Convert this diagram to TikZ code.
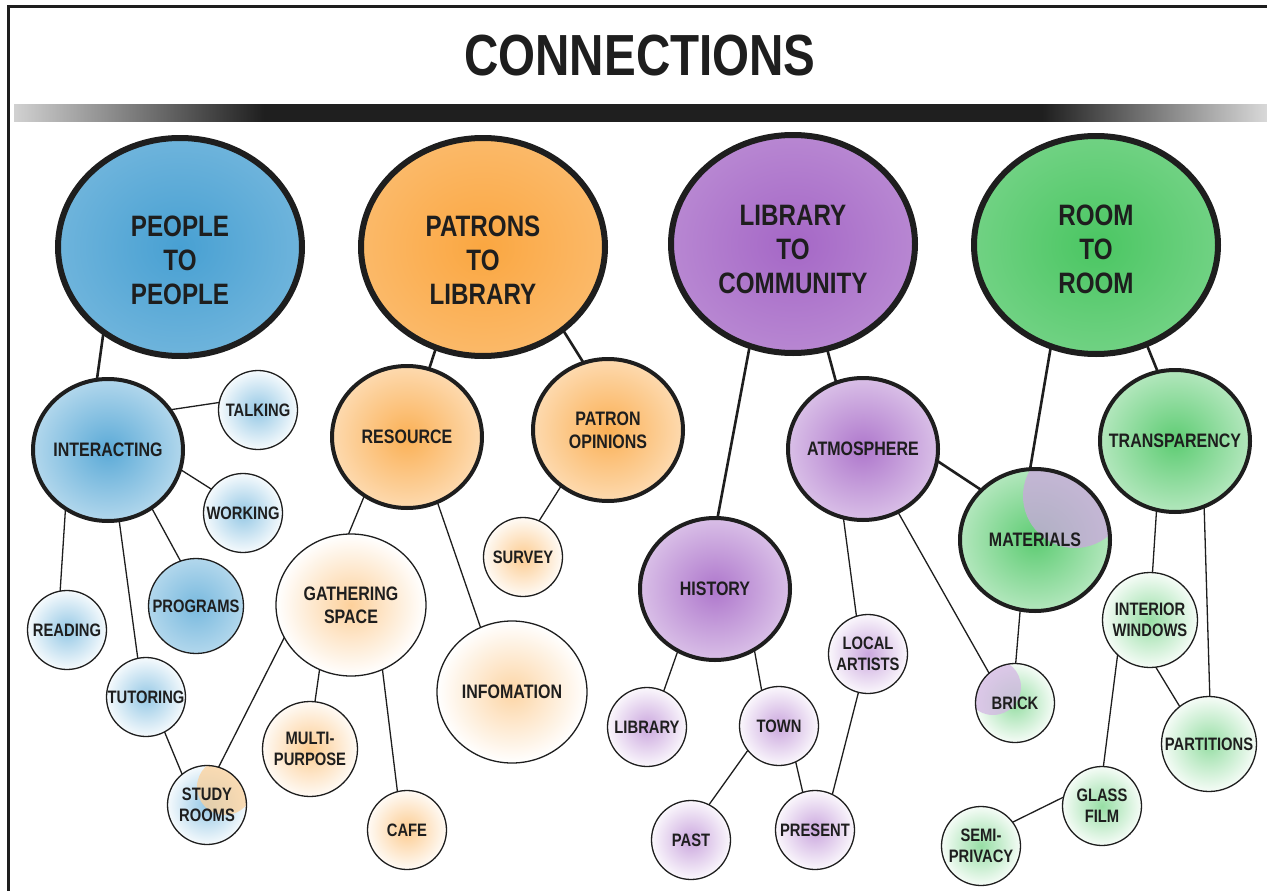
\documentclass[tikz,border=0pt]{standalone}
\usepackage{fontspec}
\setmainfont{Liberation Sans}[FakeStretch=0.82]
\usetikzlibrary{shapes.geometric}
\definecolor{wcblue}{RGB}{62,155,208}
\definecolor{wcorange}{RGB}{250,162,55}
\definecolor{wcpurple}{RGB}{160,95,195}
\definecolor{wcgreen}{RGB}{65,195,90}
\definecolor{ink}{RGB}{30,30,30}
\pgfdeclarehorizontalshading{barfade}{100bp}{color(0bp)=(black!18); color(25bp)=(black!18);
  color(35bp)=(black!88); color(66bp)=(black!88); color(75bp)=(black!15); color(100bp)=(black!15)}
\tikzset{
  % bubbles
  bub/.style={shape=ellipse, draw=ink, inner sep=0pt, outer sep=0pt},
  bigbub/.style={bub, line width=6pt, minimum width=244pt, minimum height=218pt,
    inner color=#1!95, outer color=#1!75},
  midbub/.style={bub, line width=4pt, minimum width=150pt, minimum height=142pt,
    inner color=#1!85, outer color=#1!40},
  smallbub/.style={bub, line width=1.3pt, minimum size=79pt,
    inner color=#1!55, outer color=#1!5},
  roundbub/.style={smallbub=#1, minimum size=95pt},
  % watercolour patch of a second colour
  blob/.style n args={4}{path picture={
    \fill[#1, opacity=.75] ([xshift=#2pt, yshift=#3pt]path picture bounding box.center)
      circle[radius=#4pt];}},
  % texts
  bigtxt/.style={font=\bfseries\fontsize{29.5}{34}\selectfont, align=center, text=ink},
  midtxt/.style={font=\bfseries\fontsize{19.5}{23}\selectfont, align=center, text=ink},
  smalltxt/.style={font=\bfseries\fontsize{18}{21}\selectfont, align=center, text=ink},
  btxt/.style 2 args={label={[bigtxt, yshift=#1pt]center:{#2}}},
  mtxt/.style={label={[midtxt]center:{#1}}},
  txt/.style={label={[smalltxt]center:{#1}}},
  % connectors
  link/.style={draw=ink, line width=1.3pt},
  biglink/.style={draw=ink, line width=2.6pt},
}
\begin{document}
\begin{tikzpicture}[x=1pt, y=-1pt]
  \useasboundingbox (0,0) rectangle (1267,891);
  \fill[white] (0,0) rectangle (1267,891);
  \draw[ink, line width=3pt] (8,891) -- (8,7) -- (1267,7);

  % title and bar
  \node[font=\bfseries\fontsize{58}{60}\selectfont, text=ink] (title) at (640,56) {CONNECTIONS};
  \shade[shading=barfade] (14,104) rectangle (1267,121);

  % main topics
  \node[bigbub=wcblue, btxt={-13}{PEOPLE\\TO\\PEOPLE}] (ppl) at (180,247) {};
  \node[bigbub=wcorange, btxt={-13}{PATRONS\\TO\\LIBRARY}] (ptl) at (483,247) {};
  \node[bigbub=wcpurple, btxt={-5}{LIBRARY\\TO\\COMMUNITY}] (ltc) at (793,244) {};
  \node[bigbub=wcgreen, btxt={-4}{ROOM\\TO\\ROOM}] (rtr) at (1096,245) {};

  % people to people
  \node[midbub=wcblue, mtxt={INTERACTING}] (inter) at (108,450) {};
  \node[smallbub=wcblue, txt={TALKING}] (talk) at (258,410) {};
  \node[smallbub=wcblue, txt={WORKING}] (work) at (243,513) {};
  \node[roundbub=wcblue, inner color=wcblue!70, outer color=wcblue!40, txt={PROGRAMS}] (prog) at (196,606) {};
  \node[smallbub=wcblue, txt={READING}] (read) at (67,630) {};
  \node[smallbub=wcblue, txt={TUTORING}] (tut) at (146,697) {};
  \node[smallbub=wcblue, blob={wcorange!50}{18}{18}{28}, txt={STUDY\\ROOMS}] (study) at (207,805) {};

  % patrons to library
  \node[midbub=wcorange, mtxt={RESOURCE}] (res) at (407,437) {};
  \node[midbub=wcorange, mtxt={PATRON\\OPINIONS}] (opin) at (608,430) {};
  \node[midbub=wcorange, line width=1.3pt, inner color=wcorange!50, outer color=white, mtxt={GATHERING\\SPACE}] (gath) at (351,605) {};
  \node[smallbub=wcorange, txt={SURVEY}] (survey) at (523,557) {};
  \node[midbub=wcorange, line width=1.3pt, inner color=wcorange!45, outer color=white, mtxt={INFOMATION}] (info) at (512,692) {};
  \node[roundbub=wcorange, txt={MULTI-\\PURPOSE}] (multi) at (310,749) {};
  \node[smallbub=wcorange, txt={CAFE}] (cafe) at (407,830) {};

  % library to community
  \node[midbub=wcpurple, mtxt={ATMOSPHERE}] (atmo) at (863,449) {};
  \node[midbub=wcpurple, mtxt={HISTORY}] (hist) at (715,589) {};
  \node[smallbub=wcpurple, txt={LOCAL\\ARTISTS}] (local) at (868,654) {};
  \node[smallbub=wcpurple, txt={LIBRARY}] (lib) at (647,727) {};
  \node[smallbub=wcpurple, txt={TOWN}] (town) at (779,726) {};
  \node[smallbub=wcpurple, txt={PAST}] (past) at (691,840) {};
  \node[smallbub=wcpurple, txt={PRESENT}] (pres) at (815,830) {};

  % room to room
  \node[midbub=wcgreen, blob={wcpurple!55}{40}{44}{52}, mtxt={MATERIALS}] (mat) at (1035,540) {};
  \node[midbub=wcgreen, mtxt={TRANSPARENCY}] (trans) at (1175,441) {};
  \node[smallbub=wcgreen, blob={wcpurple!45}{-22}{16}{28}, txt={BRICK}] (brick) at (1015,703) {};
  \node[roundbub=wcgreen, txt={INTERIOR\\WINDOWS}] (intw) at (1150,620) {};
  \node[roundbub=wcgreen, txt={PARTITIONS}] (part) at (1209,744) {};
  \node[smallbub=wcgreen, txt={GLASS\\FILM}] (glass) at (1102,806) {};
  \node[smallbub=wcgreen, txt={SEMI-\\PRIVACY}] (semi) at (981,846) {};

  % connectors
  \draw[biglink] (ppl.228) -- (inter.99);
  \draw[link] (inter.33) -- (talk.169);
  \draw[link] (inter.-15) -- (work.143);
  \draw[link] (inter.-53) -- (prog.109);
  \draw[link] (inter.-81) -- (tut.102);
  \draw[link] (inter.234) -- (read.100);
  \draw[link] (tut.-62) -- (study.129);
  \draw[link] (gath.206) -- (study.73);
  \draw[link] (gath.244) -- (multi.84);
  \draw[link] (gath.-64) -- (cafe.104);
  \draw[link] (res.234) -- (gath.92);
  \draw[link] (res.-65) -- (info.116);
  \draw[biglink] (ptl.245) -- (res.72);
  \draw[biglink] (ptl.-46) -- (opin.110);
  \draw[link] (opin.230) -- (survey.66);
  \draw[biglink] (ltc.247) -- (hist.88);
  \draw[biglink] (ltc.-72) -- (atmo.112);
  \draw[link] (hist.239) -- (lib.65);
  \draw[link] (hist.-57) -- (town.116);
  \draw[link] (town.218) -- (past.63);
  \draw[link] (town.-65) -- (pres.108);
  \draw[link] (local.256) -- (pres.64);
  \draw[link] (atmo.254) -- (local.107);
  \draw[link] (atmo.-61) -- (brick.131);
  \draw[biglink] (atmo.-9) -- (mat.137);
  \draw[biglink] (rtr.246) -- (mat.94);
  \draw[biglink] (rtr.-63) -- (trans.104);
  \draw[link] (mat.258) -- (brick.89);
  \draw[link] (trans.255) -- (intw.87);
  \draw[link] (trans.-66) -- (part.89);
  \draw[link] (intw.-83) -- (part.128);
  \draw[link] (intw.227) -- (glass.88);
  \draw[link] (glass.167) -- (semi.37);
\end{tikzpicture}
\end{document}
